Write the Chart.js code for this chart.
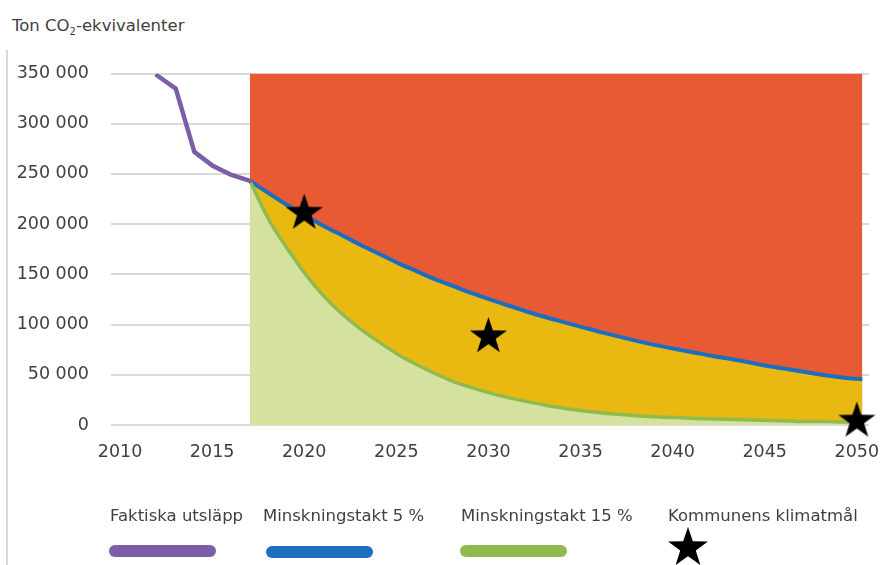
<!DOCTYPE html>
<html lang="sv">
<head>
<meta charset="utf-8">
<title>Utsläpp och minskningstakt</title>
<script src="https://cdn.jsdelivr.net/npm/chart.js@4.4.1/dist/chart.umd.min.js"></script>
<style>
    body { margin: 0; background: #fff; font-family: 'DejaVu Sans', sans-serif; color: #3f3f3f; }
    #wrap { position: relative; width: 885px; height: 565px; overflow: hidden; }
    #chart { position: absolute; left: 0; top: 0; }
    .frame { position: absolute; left: 6px; top: 50px; width: 2px; height: 515px; background: #d8d8d8; }
    .title { position: absolute; left: 12px; top: 16px; font-size: 16.5px; line-height: 20px; white-space: nowrap; }
    .title sub { font-size: 10px; vertical-align: -4px; line-height: 0; }
    .leg-text { position: absolute; top: 506px; font-size: 16.5px; line-height: 20px; white-space: nowrap; }
    .leg-line { position: absolute; height: 12px; border-radius: 6px; }
    #legStar { position: absolute; }
</style>
</head>
<body>
<div id="wrap">
    <div class="frame"></div>
    <div class="title">Ton CO<sub>2</sub>-ekvivalenter</div>
    <canvas id="chart" width="885" height="565"></canvas>
</div>
<script>
// --- data ---
const xTicks = [2010, 2015, 2020, 2025, 2030, 2035, 2040, 2045, 2050];
const yTicks = [0, 50000, 100000, 150000, 200000, 250000, 300000, 350000];

// Faktiska utsläpp
const histYears = [2012, 2013, 2014, 2015, 2016, 2017];
const histValues = [348000, 335000, 272000, 258000, 249000, 243000];

// scenario years
const scenYears = [2017, 2018, 2019, 2020, 2021, 2022, 2023, 2024, 2025, 2026,
    2027, 2028, 2029, 2030, 2031, 2032, 2033, 2034, 2035, 2036,
    2037, 2038, 2039, 2040, 2041, 2042, 2043, 2044, 2045, 2046,
    2047, 2048, 2049, 2050];

// Minskningstakt 5 %
const rate5Values = [243000, 231000, 219000, 208500, 198000, 188500, 179000, 170000, 161000, 153000,
    145000, 138000, 131000, 124500, 118500, 112500, 107000, 102000, 97000, 92000,
    87500, 83000, 79000, 75500, 72000, 68500, 65500, 62000, 58500, 55500,
    52500, 49500, 47000, 45500];

// Minskningstakt 15 %
const rate15Values = [243000, 205000, 176000, 150000, 128000, 110000, 95000, 82000, 70000, 60000,
    51000, 43000, 37000, 31500, 27000, 23000, 19500, 16500, 14000, 12000,
    10500, 9000, 8000, 7500, 6500, 6000, 5500, 5000, 4500, 4000,
    3500, 3500, 3000, 3000];

// red area above the 5 % path
const ceilingYears = [2017, 2050];
const ceilingValues = [350000, 350000];

// Kommunens klimatmål
const goalYears = [2020, 2030, 2050];
const goalValues = [211000, 88000, 4000];

const legendNames = ['Faktiska utsläpp', 'Minskningstakt 5 %', 'Minskningstakt 15 %', 'Kommunens klimatmål'];

// --- colours ---
const purple = '#7d5ea6';
const blue = '#1c6ec0';
const green = '#8fbb4e';
const red = '#e85a33';
const yellow = '#e9b911';
const lightGreen = '#d5e19e';

function makeStar(r, color) {
    const c = document.createElement('canvas');
    const s = Math.ceil(r * 2 + 4);
    c.width = s;
    c.height = s;
    const g = c.getContext('2d');
    const cx = s / 2, cy = s / 2, ri = r * 0.39;
    g.beginPath();
    for (let i = 0; i < 10; i++) {
        const rad = i % 2 ? ri : r;
        const a = -Math.PI / 2 + i * Math.PI / 5;
        g.lineTo(cx + rad * Math.cos(a), cy + rad * Math.sin(a));
    }
    g.closePath();
    g.fillStyle = color;
    g.fill();
    return c;
}

function pairs(xs, ys) {
    return xs.map((x, i) => ({ x: x, y: ys[i] }));
}

function spaced(v) {
    return String(v).replace(/\B(?=(\d{3})+(?!\d))/g, ' ');
}

const tickFont = { family: "'DejaVu Sans', sans-serif", size: 17.5 };

new Chart(document.getElementById('chart'), {
    type: 'line',
    data: {
        datasets: [{
            label: 'Tak',
            data: pairs(ceilingYears, ceilingValues),
            xAxisID: 'xd',
            borderWidth: 0,
            backgroundColor: red,
            fill: 'origin',
            pointRadius: 0,
            order: 6
        }, {
            label: legendNames[1],
            data: pairs(scenYears, rate5Values),
            xAxisID: 'xd',
            borderColor: blue,
            borderWidth: 4,
            backgroundColor: yellow,
            fill: 'origin',
            cubicInterpolationMode: 'monotone',
            pointRadius: 0,
            order: 5
        }, {
            label: legendNames[2],
            data: pairs(scenYears, rate15Values),
            xAxisID: 'xd',
            borderColor: green,
            borderWidth: 3.5,
            backgroundColor: lightGreen,
            fill: 'origin',
            cubicInterpolationMode: 'monotone',
            pointRadius: 0,
            order: 4
        }, {
            label: legendNames[0],
            data: pairs(histYears, histValues),
            xAxisID: 'xd',
            borderColor: purple,
            borderWidth: 4.5,
            borderJoinStyle: 'round',
            borderCapStyle: 'round',
            fill: false,
            tension: 0,
            pointRadius: 0,
            order: 3
        }, {
            label: legendNames[3],
            data: pairs(goalYears, goalValues),
            xAxisID: 'x',
            showLine: false,
            clip: false,
            pointStyle: makeStar(19.5, '#000'),
            pointRadius: 20,
            order: 1
        }]
    },
    options: {
        responsive: false,
        animation: false,
        layout: { autoPadding: false, padding: { top: 73.5, right: 16, left: 0, bottom: 0 } },
        plugins: { legend: { display: false }, tooltip: { enabled: false } },
        scales: {
            x: {
                type: 'linear',
                min: 2009.51,
                max: 2050.66,
                afterBuildTicks: s => { s.ticks = xTicks.map(v => ({ value: v })); },
                afterFit: s => { s.height = 140; s.paddingLeft = 0; s.paddingRight = 0; },
                grid: { display: false, drawTicks: false },
                border: { display: false },
                ticks: { color: '#3f3f3f', font: tickFont, padding: 17, maxRotation: 0, callback: v => String(v) }
            },
            xd: {
                type: 'linear',
                display: false,
                min: 2009.51,
                max: 2050.36
            },
            y: {
                min: 0,
                max: 350000,
                afterBuildTicks: s => { s.ticks = yTicks.map(v => ({ value: v })); },
                afterFit: s => { s.width = 111; s.paddingTop = 0; s.paddingBottom = 0; },
                grid: { color: '#dadada', lineWidth: 2, drawTicks: false },
                border: { display: false },
                ticks: { color: '#3f3f3f', font: tickFont, padding: 22, callback: v => spaced(v) }
            }
        }
    }
});

// legend under the chart
const wrap = document.getElementById('wrap');
const legTextX = [110, 263, 461, 668];
const legLines = [
    { x: 109, y: 544.5, w: 107, color: purple },
    { x: 266, y: 546, w: 107, color: blue },
    { x: 460, y: 544.5, w: 107, color: green }
];
legendNames.forEach((name, i) => {
    const t = document.createElement('div');
    t.className = 'leg-text';
    t.style.left = legTextX[i] + 'px';
    t.textContent = name;
    wrap.appendChild(t);
});
legLines.forEach(l => {
    const d = document.createElement('div');
    d.className = 'leg-line';
    d.style.left = l.x + 'px';
    d.style.top = l.y + 'px';
    d.style.width = l.w + 'px';
    d.style.background = l.color;
    wrap.appendChild(d);
});
const legStar = makeStar(21, '#000');
legStar.id = 'legStar';
legStar.style.left = (688 - legStar.width / 2) + 'px';
legStar.style.top = (548 - legStar.height / 2) + 'px';
wrap.appendChild(legStar);
</script>
</body>
</html>
